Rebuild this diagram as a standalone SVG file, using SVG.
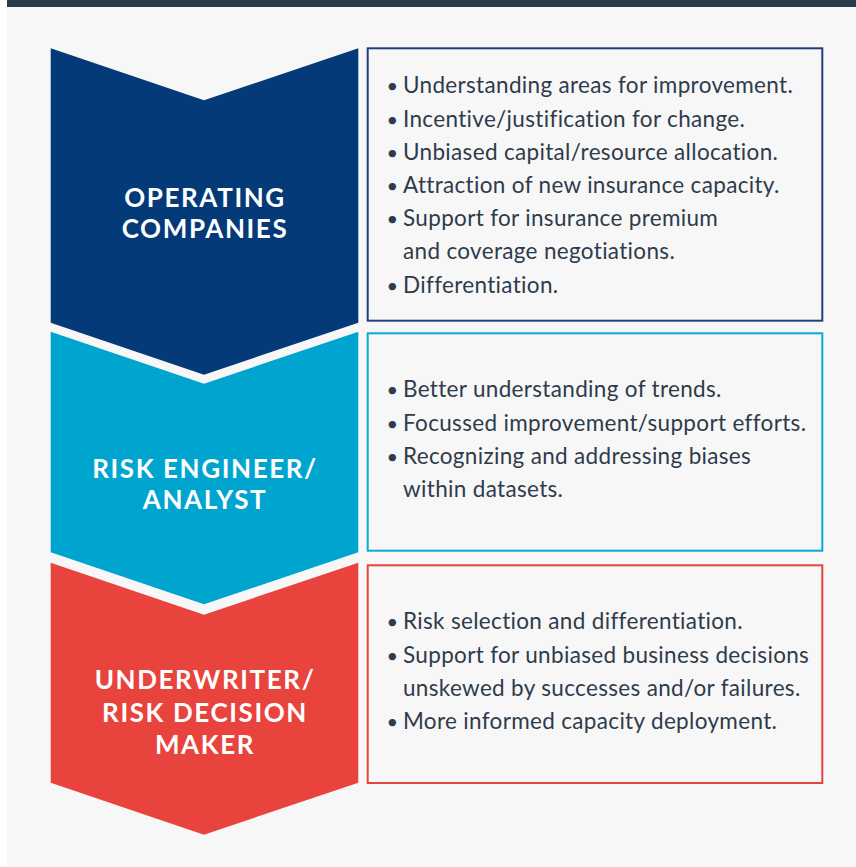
<svg xmlns="http://www.w3.org/2000/svg" width="856" height="867" viewBox="0 0 856 867">
<style>
.head{font-family:Lato,"Noto Sans",sans-serif;font-weight:bold;font-size:26px;letter-spacing:1.6px;fill:#ffffff;text-anchor:middle}
.body{font-family:Lato,"Noto Sans",sans-serif;font-size:22.5px;letter-spacing:0.33px;fill:#2e3b4b}
.bul{font-family:Lato,"Noto Sans",sans-serif;font-size:20px;fill:#2e3b4b}
.box{fill:none;stroke-width:2}
</style>
<rect x="0" y="0" width="856" height="867" fill="#ffffff"/>
<rect x="7" y="0" width="849" height="867" fill="#f7f7f7"/>
<rect x="7" y="0" width="849" height="7" fill="#2d3a4a"/>
<g id="node-operating">
<polygon points="50.7,48.3 204,100.3 358.3,48.3 358.3,322.7 204,374.7 50.7,322.7" fill="#043a78"/>
<text class="head" x="205" y="207">OPERATING</text>
<text class="head" x="205" y="237.5">COMPANIES</text>
<rect class="box" x="367.7" y="48.3" width="454.6" height="272.4" stroke="#233e7d"/>
<g class="bul">
<text x="386.5" y="93.3">•</text><text x="386.5" y="126.5">•</text><text x="386.5" y="159.7">•</text><text x="386.5" y="192.9">•</text><text x="386.5" y="226.1">•</text><text x="386.5" y="292.5">•</text>
</g>
<text class="body" x="403" y="93.3">Understanding areas for improvement.</text>
<text class="body" x="403" y="126.5">Incentive/justification for change.</text>
<text class="body" x="403" y="159.7">Unbiased capital/resource allocation.</text>
<text class="body" x="403" y="192.9">Attraction of new insurance capacity.</text>
<text class="body" x="403" y="226.1">Support for insurance premium</text>
<text class="body" x="403" y="259.3">and coverage negotiations.</text>
<text class="body" x="403" y="292.5">Differentiation.</text>
</g>
<g id="node-risk-engineer">
<polygon points="50.7,331.7 204,383.7 358.3,331.7 358.3,552.3 204,604.3 50.7,552.3" fill="#00a5cf"/>
<text class="head" x="205" y="478.3">RISK ENGINEER/</text>
<text class="head" x="205" y="509.3">ANALYST</text>
<rect class="box" x="367.7" y="333.3" width="454.6" height="217.4" stroke="#0aa9d6"/>
<g class="bul">
<text x="386.5" y="397.3">•</text><text x="386.5" y="430.5">•</text><text x="386.5" y="463.7">•</text>
</g>
<text class="body" x="403" y="397.3">Better understanding of trends.</text>
<text class="body" x="403" y="430.5">Focussed improvement/support efforts.</text>
<text class="body" x="403" y="463.7">Recognizing and addressing biases</text>
<text class="body" x="403" y="496.9">within datasets.</text>
</g>
<g id="node-underwriter">
<polygon points="50.7,562.7 204,614.7 358.3,562.7 358.3,782.7 204,834.7 50.7,782.7" fill="#e8433d"/>
<text class="head" x="205" y="689.3">UNDERWRITER/</text>
<text class="head" x="205" y="721.5">RISK DECISION</text>
<text class="head" x="205" y="753.5">MAKER</text>
<rect class="box" x="367.7" y="565.3" width="454.6" height="217.7" stroke="#e8443e"/>
<g class="bul">
<text x="386.5" y="629.3">•</text><text x="386.5" y="662.5">•</text><text x="386.5" y="728.9">•</text>
</g>
<text class="body" x="403" y="629.3">Risk selection and differentiation.</text>
<text class="body" x="403" y="662.5">Support for unbiased business decisions</text>
<text class="body" x="403" y="695.7">unskewed by successes and/or failures.</text>
<text class="body" x="403" y="728.9">More informed capacity deployment.</text>
</g>
<g id="connectors"/>
</svg>
